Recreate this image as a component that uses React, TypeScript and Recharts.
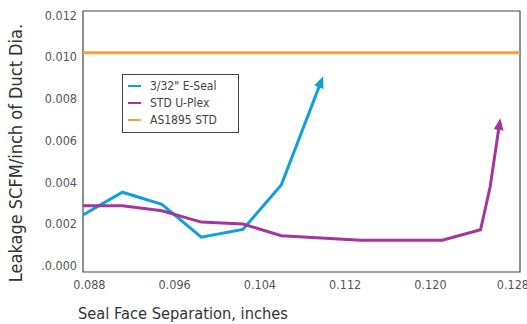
import { LineChart, Line, XAxis, YAxis, ReferenceArea, Legend } from 'recharts';

const FONT = '"Liberation Sans Narrow", "DejaVu Sans Condensed", "Roboto Condensed", sans-serif';

const BLUE = '#119fdb';
const PURPLE = '#a3369c';
const ORANGE = '#f6a13a';

const xTicks = [0.088, 0.096, 0.104, 0.112, 0.12, 0.128];
const yTicks = [0, 0.002, 0.004, 0.006, 0.008, 0.01, 0.012];

const seriesNames = ['3/32" E-Seal', 'STD U-Plex', 'AS1895 STD'];
const seriesColors = [BLUE, PURPLE, ORANGE];

// 3/32" E-Seal
const eSealX = [0.0874, 0.0911, 0.0948, 0.0985, 0.1024, 0.106, 0.1098];
const eSealY = [0.00243, 0.00352, 0.00294, 0.00137, 0.00174, 0.00387, 0.0089];

// STD U-Plex
const uPlexX = [0.0874, 0.0911, 0.0948, 0.0985, 0.1024, 0.106, 0.1135, 0.1211, 0.1247, 0.1256, 0.1265];
const uPlexY = [0.00287, 0.00287, 0.00263, 0.00209, 0.002, 0.00144, 0.00122, 0.00122, 0.00172, 0.00378, 0.00688];

// AS1895 STD
const asX = [0.0874, 0.1284];
const asY = [0.0102, 0.0102];

const zip = (xs: number[], ys: number[]) => xs.map((x, i) => ({ x, y: ys[i] }));

const eSeal = zip(eSealX, eSealY);
const uPlex = zip(uPlexX, uPlexY);
const as1895 = zip(asX, asY);

function LegendBox() {
  return (
    <div
      style={{
        border: '1px solid #444',
        background: '#fff',
        width: 115,
        height: 54,
        boxSizing: 'content-box',
        paddingTop: 3,
        fontFamily: FONT,
      }}
    >
      {seriesNames.map((name, i) => (
        <div key={name} style={{ display: 'flex', alignItems: 'center', height: 16.8 }}>
          <span style={{ display: 'inline-block', width: 13, height: 2, background: seriesColors[i], marginLeft: 5, marginRight: 9 }} />
          <span style={{ fontSize: 12, color: '#444', lineHeight: 1 }}>{name}</span>
        </div>
      ))}
    </div>
  );
}

export default function App() {
  return (
    <div style={{ position: 'fixed', left: 0, top: 0, background: '#fff' }}>
      <LineChart width={527} height={324} margin={{ top: 11, right: 7, bottom: 0, left: 0 }}>
        <defs>
          <marker id="arrowBlue" viewBox="0 0 12 10" refX="8" refY="5" markerWidth="12" markerHeight="10" markerUnits="userSpaceOnUse" orient="auto">
            <path d="M0,0 L12,5 L0,10 z" fill={BLUE} />
          </marker>
          <marker id="arrowPurple" viewBox="0 0 12 10" refX="8" refY="5" markerWidth="12" markerHeight="10" markerUnits="userSpaceOnUse" orient="auto">
            <path d="M0,0 L12,5 L0,10 z" fill={PURPLE} />
          </marker>
        </defs>
        <XAxis
          type="number"
          dataKey="x"
          domain={[0.0874, 0.1284]}
          ticks={xTicks}
          allowDataOverflow
          tickFormatter={(v: number) => v.toFixed(3)}
          tick={{ fontSize: 12.5, fill: '#555', fontFamily: FONT }}
          tickLine={false}
          axisLine={false}
          height={52}
          label={{
            content: ({ viewBox }: any) => (
              <text x={viewBox.x - 5} y={viewBox.y + 47} fontSize={16.3} fill="#333" fontFamily={FONT}>
                Seal Face Separation, inches
              </text>
            ),
          }}
        />
        <YAxis
          type="number"
          domain={[-0.0003, 0.0122]}
          ticks={yTicks}
          allowDataOverflow
          tickFormatter={(v: number) => (v === 0 ? '.0.000' : v.toFixed(3))}
          tick={{ fontSize: 12.5, fill: '#555', fontFamily: FONT }}
          tickLine={false}
          axisLine={false}
          tickSize={4}
          tickMargin={2}
          width={83}
          label={{
            content: () => (
              <text
                x={15}
                y={153}
                transform="rotate(-90 15 153)"
                textAnchor="middle"
                dominantBaseline="central"
                fontSize={18}
                fill="#333"
                fontFamily={FONT}
              >
                Leakage SCFM/inch of Duct Dia.
              </text>
            ),
          }}
        />
        <ReferenceArea x1={0.0874} x2={0.1284} y1={-0.0003} y2={0.0122} fill="none" stroke="#444" strokeWidth={1.2} ifOverflow="visible" />
        <Line data={eSeal} dataKey="y" name={seriesNames[0]} type="linear" stroke={BLUE} strokeWidth={3} dot={false} isAnimationActive={false} markerEnd="url(#arrowBlue)" />
        <Line data={uPlex} dataKey="y" name={seriesNames[1]} type="linear" stroke={PURPLE} strokeWidth={3} dot={false} isAnimationActive={false} markerEnd="url(#arrowPurple)" />
        <Line data={as1895} dataKey="y" name={seriesNames[2]} type="linear" stroke={ORANGE} strokeWidth={3} dot={false} isAnimationActive={false} />
        <Legend
          layout="vertical"
          align="center"
          verticalAlign="middle"
          wrapperStyle={{ left: 122, top: 74, width: 117, height: 57 }}
          content={<LegendBox />}
        />
      </LineChart>
    </div>
  );
}
